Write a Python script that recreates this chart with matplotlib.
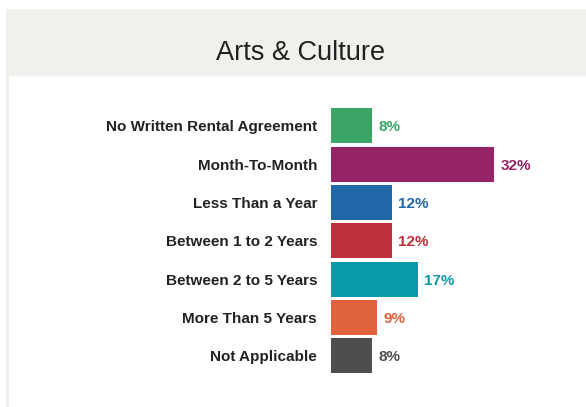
import matplotlib
matplotlib.use("Agg")
from matplotlib import pyplot as plt
from matplotlib.patches import Rectangle

# Data
categories = [
    "No Written Rental Agreement",
    "Month-To-Month",
    "Less Than a Year",
    "Between 1 to 2 Years",
    "Between 2 to 5 Years",
    "More Than 5 Years",
    "Not Applicable",
]
values = [8, 32, 12, 12, 17, 9, 8]
colors = ["#3ba565", "#952466", "#2267a8", "#be2f3c", "#0b9aa8", "#e0633e", "#4d4e4e"]
title = "Arts & Culture"

W, H = 586, 407
plt.rcParams["font.family"] = ["Liberation Sans", "DejaVu Sans"]

fig = plt.figure(figsize=(W / 100, H / 100), dpi=100)
fig.patch.set_facecolor("white")

# panel background (pixel coords converted to figure fractions)
def px_rect(x0, y0, x1, y1, color):
    fig.patches.append(Rectangle((x0 / W, 1 - y1 / H), (x1 - x0) / W, (y1 - y0) / H,
                                 transform=fig.transFigure, facecolor=color,
                                 edgecolor="none", zorder=-5))

px_rect(6, 9, W, H, "#f1f0ed")
px_rect(9, 76, W, H, "white")

fig.text(301 / W, 1 - 60 / H, title, ha="center", va="baseline",
         fontsize=19.5, color="#222222")

# axes: left edge at 331px, ~5.1 px per percent
ax_left, ax_top, ax_bottom = 331, 106.6, 375.0
ax = fig.add_axes([ax_left / W, 1 - ax_bottom / H, (W - ax_left) / W, (ax_bottom - ax_top) / H])
ax.set_zorder(2)
ax.set_xlim(0, (W - ax_left) / 5.1)
ax.set_ylim(len(categories) - 0.5, -0.5)
ax.axis("off")

ypos = list(range(len(categories)))
ax.barh(ypos, values, height=0.913, color=colors, edgecolor="none")

for y, v, c, name in zip(ypos, values, colors, categories):
    ax.annotate(f"{v}%", xy=(v, y), xytext=(4.5, 0), textcoords="offset points",
                ha="left", va="center_baseline", fontsize=11, fontweight="bold", color=c)
    ax.annotate(name, xy=(0, y), xytext=(-10, 0), textcoords="offset points",
                ha="right", va="center_baseline", fontsize=11, fontweight="bold",
                color="#222222", annotation_clip=False)

plt.savefig("out.png", dpi=100)
